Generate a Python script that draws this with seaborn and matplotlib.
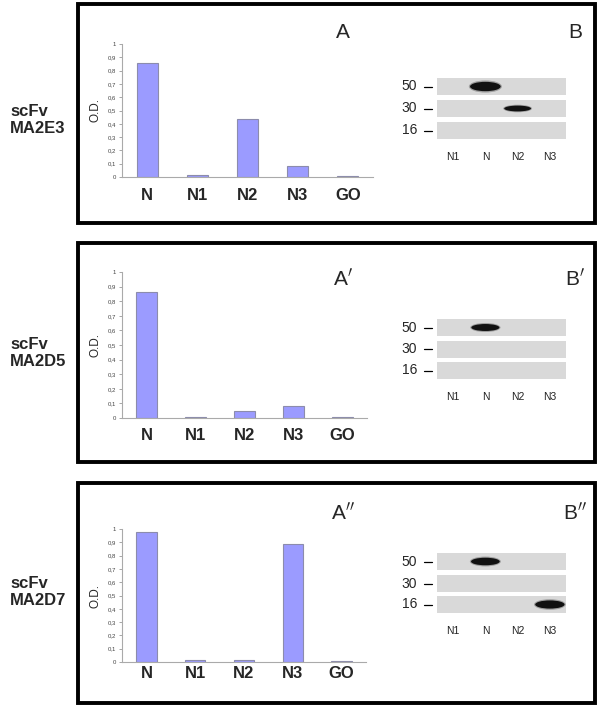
import numpy as np
import pandas as pd
import seaborn as sns
import matplotlib.pyplot as plt
from matplotlib.patches import Ellipse, Rectangle

# ELISA values (O.D.) for the three scFv clones
antigens = ["N", "N1", "N2", "N3", "GO"]
od_ma2e3 = [0.855, 0.015, 0.436, 0.085, 0.01]
od_ma2d5 = [0.863, 0.01, 0.05, 0.08, 0.01]
od_ma2d7 = [0.98, 0.015, 0.015, 0.89, 0.01]
clones = ["scFv\nMA2E3", "scFv\nMA2D5", "scFv\nMA2D7"]
letters_a = ["A", r"A$^{\prime}$", r"A$^{\prime\prime}$"]
letters_b = ["B", r"B$^{\prime}$", r"B$^{\prime\prime}$"]
od_ticks = [0, 0.1, 0.2, 0.3, 0.4, 0.5, 0.6, 0.7, 0.8, 0.9, 1]
od_tick_labels = ["0", "0,1", "0,2", "0,3", "0,4", "0,5", "0,6", "0,7", "0,8", "0,9", "1"]

# western blot: band strength per marker row (50, 30, 16 kDa) and lane
lanes = ["N1", "N", "N2", "N3"]
markers_kda = ["50", "30", "16"]
blot_ma2e3 = [[0, 1.0, 0, 0], [0, 0, 0.4, 0], [0, 0, 0, 0]]
blot_ma2d5 = [[0, 0.6, 0, 0], [0, 0, 0, 0], [0, 0, 0, 0]]
blot_ma2d7 = [[0, 0.7, 0, 0], [0, 0, 0, 0], [0, 0, 0, 0.8]]

od_sets = [od_ma2e3, od_ma2d5, od_ma2d7]
blots = [blot_ma2e3, blot_ma2d5, blot_ma2d7]

sns.set_theme(style="white")
plt.rcParams["font.family"] = ["Liberation Sans", "DejaVu Sans"]

W, H = 600, 706
fig = plt.figure(figsize=(6, 7.06), dpi=100)

def rect(l, t, r, b):
    # pixel box -> figure fraction
    return [l / W, 1 - b / H, (r - l) / W, (b - t) / H]

# layout in pixels
frames = [(78, 4, 595, 223), (78, 243, 595, 462), (78, 483, 595, 703)]
bar_boxes = [(122, 44, 373, 177), (122, 272, 367, 418), (122, 529, 366, 662)]
strip_tops = [[78, 100, 122], [319, 341, 362], [553, 575, 596]]
clone_y = [120, 353, 592]
letter_y = [33, 278, 512]
xlab_pad = [8, 7, 3]

bar_color = "#9b9bff"

for i in range(3):
    fl, ft, fr, fb = frames[i]
    fig.add_artist(Rectangle((fl / W, 1 - fb / H), (fr - fl) / W, (fb - ft) / H,
                             transform=fig.transFigure, fill=False, lw=2.8, ec="black"))

    # bar chart
    ax = fig.add_axes(rect(*bar_boxes[i]))
    df = pd.DataFrame({"antigen": antigens, "od": od_sets[i]})
    sns.barplot(data=df, x="antigen", y="od", ax=ax, color=bar_color, saturation=1,
                width=0.42, edgecolor="#8c8cac", linewidth=0.8)
    ax.set_ylim(0, 1)
    ax.set_xlim(-0.5, 4.5)
    ax.set_yticks(od_ticks)
    ax.set_yticklabels(od_tick_labels, fontsize=4.3, color="#444444")
    ax.tick_params(axis="y", length=2.5, width=0.6, color="#999999", pad=2, left=True)
    ax.tick_params(axis="x", length=0, pad=xlab_pad[i])
    for lab in ax.get_xticklabels():
        lab.set_fontsize(12)
        lab.set_fontweight("bold")
    ax.set_xlabel("")
    ax.set_ylabel("O.D.", fontsize=8.5, labelpad=4)
    sns.despine(ax=ax, top=True, right=True)
    for s in ["left", "bottom"]:
        ax.spines[s].set_color("#aaaaaa")
        ax.spines[s].set_linewidth(0.8)
    ax.set_facecolor("none")

    # clone name and panel letters
    fig.text(10 / W, 1 - clone_y[i] / H, clones[i], fontsize=12, fontweight="bold",
             va="center", ha="left", linespacing=1.15)
    fig.text(343 / W, 1 - letter_y[i] / H, letters_a[i], fontsize=15, ha="center", va="center")
    fig.text(575 / W, 1 - letter_y[i] / H, letters_b[i], fontsize=15, ha="center", va="center")

    # western blot strips
    for r, kda in enumerate(markers_kda):
        top = strip_tops[i][r]
        bx = fig.add_axes(rect(437, top, 566, top + 17))
        bx.set_facecolor("#d9d9d9")
        bx.set_xlim(0, 4)
        bx.set_ylim(0, 1)
        for s in bx.spines.values():
            s.set_visible(False)
        bx.set_yticks([])
        for k, strength in enumerate(blots[i][r]):
            if strength > 0:
                w = 0.75 + 0.2 * strength
                h = 0.2 + 0.35 * strength
                bx.add_patch(Ellipse((k + 0.5, 0.5), w * 1.08, h * 1.3, color="#333333", alpha=0.35, lw=0))
                bx.add_patch(Ellipse((k + 0.5, 0.5), w, h, color="#111111", lw=0))
        bx.plot([-0.1, -0.04], [0.5, 0.5], transform=bx.transAxes, clip_on=False,
                color="black", lw=0.9)
        bx.text(-0.155, 0.5, kda, transform=bx.transAxes, ha="right", va="center", fontsize=10)
        if r == len(markers_kda) - 1:
            bx.set_xticks([k + 0.5 for k in range(len(lanes))])
            bx.set_xticklabels(lanes, fontsize=7.5, color="#222222")
            bx.tick_params(axis="x", length=0, pad=9)
        else:
            bx.set_xticks([])

fig.savefig("out.png", dpi=100)
